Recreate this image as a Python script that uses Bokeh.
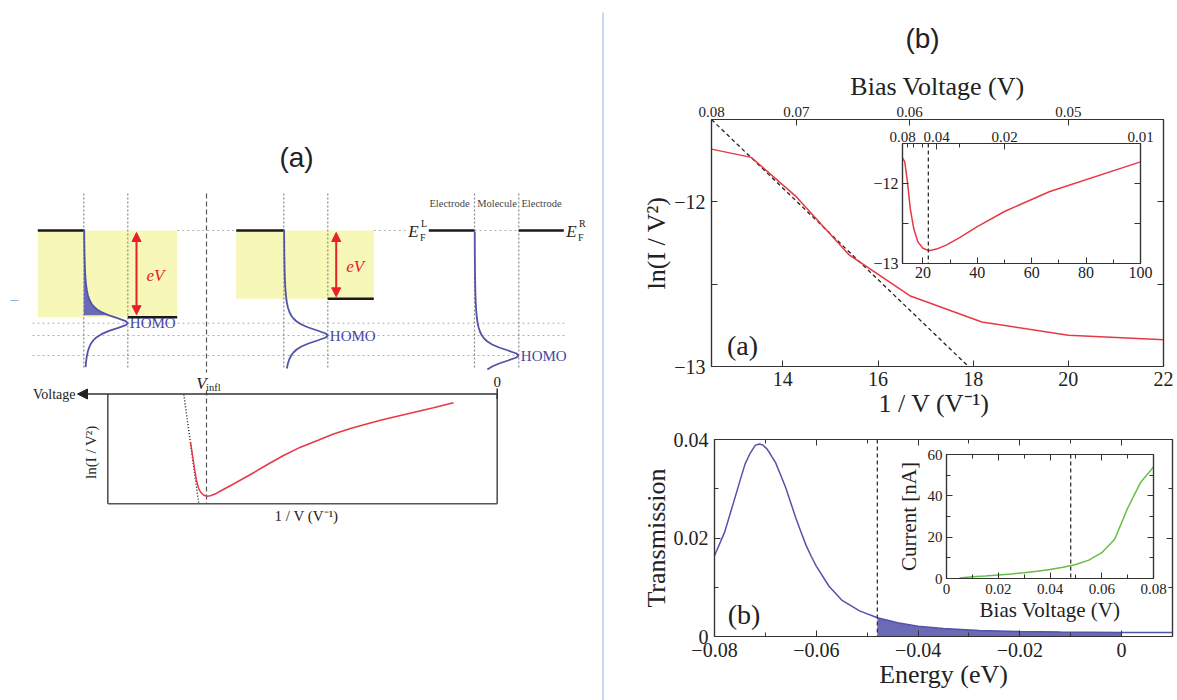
import math
from bokeh.plotting import figure
from bokeh.layouts import column
from bokeh.models import (Range1d, LinearAxis, FixedTicker, CustomJSTickFormatter,
                          Arrow, NormalHead, ColumnDataSource, Span)
from bokeh.core.properties import value
from bokeh.embed import file_html
from bokeh.resources import INLINE

SERIF = "Liberation Serif"
SANS = "Liberation Sans"
RED = "#e63946"
BLUE = "#5353a8"
BLUE_FILL = "#6a6ab6"
GREEN = "#63bf45"
INK = "#222222"

PAGE_W, PAGE_H = 1177, 700
# a column lines up the side borders of its plots, so all share these
SIDE_L = 92
SIDE_R = 18
CANVAS_W = PAGE_W - SIDE_L - SIDE_R

# ---------------- right-hand panels: data ----------------
bias_v = [0.08, 0.075, 0.07, 0.065, 0.06, 0.055, 0.05, 0.045, 0.04, 0.035,
          0.03, 0.025, 0.02, 0.015, 0.01]
ln_i_over_v2 = [-11.68, -11.73, -11.97, -12.32, -12.57, -12.73, -12.81, -12.84,
                -12.82, -12.77, -12.68, -12.54, -12.35, -12.10, -11.73]
tangent_inv_v = [12.5, 17.9]
tangent_ln = [-11.5, -13.0]
inset_infl_inv_v = 22.0

top_bias_ticks = [0.08, 0.07, 0.06, 0.05]
inset_bias_ticks = [0.08, 0.04, 0.02, 0.01]
inset_bias_minor = [0.07, 0.06, 0.05, 0.03]

energy = [-0.080, -0.078, -0.076, -0.075, -0.074, -0.073, -0.072, -0.0712, -0.0705,
          -0.0697, -0.069, -0.068, -0.067, -0.066, -0.065, -0.064, -0.063, -0.062,
          -0.061, -0.060, -0.0575, -0.055, -0.0515, -0.048, -0.044, -0.040, -0.035,
          -0.028, -0.020, -0.012, 0.000, 0.010]
transmission = [0.0164, 0.0212, 0.0281, 0.0316, 0.0350, 0.0372, 0.0388, 0.0391, 0.0389,
                0.0381, 0.0370, 0.0353, 0.0328, 0.0302, 0.0271, 0.0240, 0.0212, 0.0185,
                0.0163, 0.0143, 0.0102, 0.0074, 0.0052, 0.0038, 0.0028, 0.0021, 0.0016,
                0.0012, 0.0010, 0.0009, 0.00083, 0.0008]
window_edge = -0.048
window_top = 0.0

iv_bias = [0.005, 0.01, 0.015, 0.02, 0.025, 0.03, 0.035, 0.04, 0.045, 0.05,
           0.055, 0.06, 0.065, 0.07, 0.075, 0.08]
iv_current = [0.3, 0.8, 1.2, 1.7, 2.2, 2.8, 3.5, 4.3, 5.4, 6.8, 8.9, 12.5,
              19.0, 34.0, 46.5, 54.0]
iv_marker = 0.048

# ---------------- left-hand schematic (page units, y downward) ----------------
level_top = 230.0
elec_left_start = [37.3, 235.7, 428.3]
mol_left = [83.3, 283.3, 474.0]
mol_right = [127.3, 327.3, 518.3]
elec_right_end = [176.7, 373.3, 563.3]
ef_right = [316.7, 298.3, 230.0]
homo_level = [322.7, 335.0, 355.0]
dos_dy = [-130, -124, -118, -112, -106, -100, -94, -88, -80, -72, -64, -56, -50,
          -44, -38, -33, -28, -24, -20, -17, -14, -11, -8, -5, -2, 0,
          2, 5, 8, 11, 14, 17, 20, 24, 28, 33, 38, 44, 50]
dos_amp = [0.21, 0.23, 0.25, 0.28, 0.31, 0.35, 0.40, 0.46, 0.55, 0.68, 0.85, 1.11,
           1.38, 1.77, 2.34, 3.05, 4.12, 5.42, 7.41, 9.63, 12.87, 17.64, 24.58,
           33.62, 41.93, 44.0, 41.93, 33.62, 24.58, 17.64, 12.87, 9.63, 7.41,
           5.42, 4.12, 3.05, 2.34, 1.77, 1.38]
sketch_inv_v = [190, 192, 194, 196, 198, 200, 203, 206.5, 210, 215, 220, 233, 250,
                267, 283, 300, 317, 333, 350, 367, 383, 400, 417, 433, 453]
sketch_ln = [441.7, 455, 468, 480, 487.5, 491.5, 494.5, 495.8, 495.3, 493.3, 490.5,
             483.5, 474, 464, 455, 446.7, 440, 433.5, 428, 423.3, 419, 415, 411,
             407.3, 402.3]
sketch_fit_x = [183.3, 198.3]
sketch_fit_y = [394.0, 503.3]
v_infl_x = 206.0


def txt(p, x, y, s, size, font=SERIF, color=INK, style="normal", align="center",
        baseline="middle", angle=0.0):
    p.text(x=[x], y=[y], text=[s], text_font=value(font), text_font_size=size,
           text_color=color, text_font_style=style, text_align=align,
           text_baseline=baseline, angle=angle)


def place(p, left, top):
    p.styles = {"position": "absolute", "left": f"{left}px", "top": f"{top}px"}


# ================= schematic canvas =================
cv = figure(frame_width=CANVAS_W, frame_height=PAGE_H, x_range=Range1d(0, CANVAS_W),
            y_range=Range1d(PAGE_H, 0), output_backend="svg", toolbar_location=None,
            min_border=0, min_border_left=SIDE_L, min_border_right=SIDE_R, min_border_top=0,
            min_border_bottom=0, x_axis_location=None, y_axis_location=None,
            outline_line_color=None, title=None)
cv.grid.visible = False
place(cv, -SIDE_L, 0)

cv.line([602.5, 602.5], [12, 700], line_color="#b7cde6", line_width=1.5)
cv.line([10, 18], [300, 300], line_color="#8fb0d8", line_width=1.2)
txt(cv, 296, 157, "(a)", "28px", font=SANS)
txt(cv, 922, 38, "(b)", "28px", font=SANS)

# bias windows
cv.quad(left=elec_left_start[:2], right=elec_right_end[:2], top=[level_top] * 2,
        bottom=ef_right[:2], fill_color="#f7f7b8", line_color=None)

# dotted guides
gx, gy = [], []
for a, b in [(elec_right_end[0], elec_left_start[1]), (elec_right_end[1], 405),
             (mol_left[2], mol_right[2])]:
    gx.append([a, b]); gy.append([level_top, level_top])
for i, h in enumerate(homo_level):
    gx.append([32, 566 if i < 2 else mol_right[2]]); gy.append([h, h])
cv.multi_line(gx, gy, line_color="#b0b0b0", line_width=1, line_dash="2 3")
vx = [[m, m] for m in mol_left + mol_right]
cv.multi_line(vx, [[193, 368]] * len(vx), line_color="#8a8a8a", line_width=1.2,
              line_dash="2 2")
cv.multi_line([[v_infl_x, v_infl_x], [v_infl_x, v_infl_x]], [[193, 372], [390, 503.3]],
              line_color="#555555", line_width=1.2, line_dash="5 3")

# electrode Fermi levels
fx = [[elec_left_start[i], mol_left[i]] for i in range(3)] + \
     [[mol_right[i], elec_right_end[i]] for i in range(3)]
fy = [[level_top, level_top]] * 3 + [[ef_right[i], ef_right[i]] for i in range(3)]
cv.multi_line(fx, fy, line_color="#1a1a1a", line_width=2.5)

# molecular density of states
for i in range(3):
    ys = [homo_level[i] + d for d in dos_dy]
    xs = [mol_left[i] + a for a in dos_amp]
    keep = [k for k in range(len(ys)) if 228 <= ys[k] <= 370]
    ys_k = [ys[k] for k in keep]
    xs_k = [xs[k] for k in keep]
    if i == 0:
        fill = [k for k in range(len(ys_k)) if ys_k[k] <= ef_right[0] + 0.5]
        cv.harea(y=[ys_k[k] for k in fill], x1=[mol_left[0]] * len(fill),
                 x2=[xs_k[k] for k in fill], fill_color=BLUE_FILL)
    cv.line(xs_k, ys_k, line_color=BLUE, line_width=1.8)
cv.text(x=[m + 2 for m in mol_right], y=homo_level, text=["HOMO"] * 3,
        text_font=value(SERIF), text_font_size="15px", text_color="#4646a0",
        text_align="left", text_baseline="middle")

# applied bias arrows
arrow_x = [136.0, 335.7]
arrow_src = ColumnDataSource(dict(x=arrow_x, y0=[level_top + 2] * 2,
                                  y1=[ef_right[0] - 2.5, ef_right[1] - 2]))
cv.add_layout(Arrow(source=arrow_src, x_start="x", y_start="y0", x_end="x", y_end="y1",
                    line_color="#e8202a", line_width=2,
                    start=NormalHead(size=9, fill_color="#e8202a", line_color="#e8202a"),
                    end=NormalHead(size=9, fill_color="#e8202a", line_color="#e8202a")))
for i in range(2):
    txt(cv, arrow_x[i] + 10, (level_top + ef_right[i]) / 2 + 2, "eV", "17px",
        color="#e8202a", style="italic", align="left")

# panel 3 annotations
for x, s in [(449, "Electrode"), (496.5, "Molecule"), (541, "Electrode")]:
    txt(cv, x, 203, s, "10.5px", color="#444444")
txt(cv, 413, 231, "E", "17px", style="italic")
txt(cv, 420.5, 223, "L", "10px", align="left")
txt(cv, 419.5, 236.5, "F", "10px", align="left")
txt(cv, 571, 231, "E", "17px", style="italic")
txt(cv, 578.5, 223, "R", "10px", align="left")
txt(cv, 577.5, 236.5, "F", "10px", align="left")

# sketch of ln(I/V^2) against 1/V
cv.multi_line([[107.3, 107.3], [107.3, 496.7], [496.7, 496.7]],
              [[393.5, 503.3], [503.3, 503.3], [393.5, 503.3]],
              line_color="#555555", line_width=1.6)
cv.add_layout(Arrow(x_start=496.7, y_start=393.5, x_end=77, y_end=393.5,
                    line_color="#333333", line_width=1.6,
                    end=NormalHead(size=10, fill_color="#222222", line_color="#222222")))
cv.line([496.7, 496.7], [388, 398.5], line_color="#333333", line_width=1.5)
txt(cv, 75, 393.5, "Voltage", "14px", align="right")
txt(cv, 496.7, 381.5, "0", "15px")
txt(cv, 201, 382.5, "V", "17px", style="italic")
txt(cv, 205.5, 387, "infl", "10.5px", align="left")
cv.line(sketch_fit_x, sketch_fit_y, line_color="#222222", line_width=1.5, line_dash="1 2")
cv.line(sketch_inv_v, sketch_ln, line_color=RED, line_width=1.5)
txt(cv, 90, 451.7, "ln(I / V²)", "15px", angle=math.pi / 2)
txt(cv, 308, 515, "1 / V  (V⁻¹)", "15px")


# ================= helpers for the data panels =================
def fmt_dec(d):
    return CustomJSTickFormatter(code=f"""
        if (Math.abs(tick) < 1e-12) return "0";
        return tick.toFixed({d}).replace("-", "\\u2212");
    """)


def fmt_int_only():
    return CustomJSTickFormatter(code="""
        if (Math.abs(tick - Math.round(tick)) > 1e-9) return "";
        return tick.toFixed(0).replace("-", "\\u2212");""")


BLANK = "return ''"


def style_axis(ax, size, ticks, minor=None, formatter=None, label=None, lsize="26px",
               standoff=5, label_standoff=4):
    ax.ticker = FixedTicker(ticks=ticks, minor_ticks=minor or [])
    ax.formatter = formatter if formatter is not None else CustomJSTickFormatter(code=BLANK)
    ax.axis_line_color = "#333333"
    ax.axis_line_width = 1.2
    ax.major_tick_line_color = "#333333"
    ax.minor_tick_line_color = "#333333"
    ax.major_tick_in = 6
    ax.major_tick_out = 0
    ax.minor_tick_in = 4
    ax.minor_tick_out = 0
    ax.major_label_text_font = SERIF
    ax.major_label_text_font_size = size
    ax.major_label_text_color = INK
    ax.major_label_standoff = standoff if formatter is not None else 0
    ax.axis_label = label
    ax.axis_label_text_font = SERIF
    ax.axis_label_text_font_style = "normal"
    ax.axis_label_text_font_size = lsize
    ax.axis_label_text_color = INK
    ax.axis_label_standoff = label_standoff


def panel(x_rng, y_rng, frame, top_bottom):
    fl, ft, fw, fh = frame
    bt, bb = top_bottom
    p = figure(frame_width=fw, frame_height=fh, x_range=Range1d(*x_rng),
               y_range=Range1d(*y_rng), output_backend="svg", toolbar_location=None,
               min_border_left=SIDE_L, min_border_right=SIDE_R, min_border_top=bt,
               min_border_bottom=bb, outline_line_color="#333333", outline_line_width=1.2,
               title=None)
    p.border_fill_alpha = 0
    p.grid.visible = False
    place(p, fl - SIDE_L, ft - bt)
    return p


def mirror(p, side, ticks, minor=None):
    ax = LinearAxis()
    style_axis(ax, "1px", ticks, minor=minor)
    ax.axis_label_standoff = 0
    p.add_layout(ax, side)


def inv_formatter():
    return CustomJSTickFormatter(code="return (1 / tick).toFixed(2);")


inv_bias = [1.0 / v for v in bias_v]

# ----- (a) Fowler-Nordheim plot -----
tm = panel((12.5, 22.0), (-13.0, -11.5), (711, 119, 452, 247), (60, 64))
tm.background_fill_alpha = 0
style_axis(tm.xaxis[0], "20px", [14, 16, 18, 20, 22], formatter=fmt_dec(0),
           label="1 / V  (V⁻¹)", standoff=5, label_standoff=0)
style_axis(tm.yaxis[0], "20px", [-13, -12.5, -12], formatter=fmt_int_only(),
           label="ln(I / V²)", standoff=6, label_standoff=0)
ax_top = LinearAxis()
style_axis(ax_top, "15px", [1.0 / v for v in top_bias_ticks], formatter=inv_formatter(),
           label="Bias Voltage (V)", standoff=3, label_standoff=3)
tm.add_layout(ax_top, "above")
mirror(tm, "right", [-13, -12.5, -12])
tm.line(tangent_inv_v, tangent_ln, line_color="#222222", line_width=1.3, line_dash="4 3")
tm.line(inv_bias, ln_i_over_v2, line_color=RED, line_width=1.5)
tm.text(x=[13.15], y=[-12.87], text=["(a)"], text_font=value(SERIF), text_font_size="28px",
        text_color=INK, text_align="center", text_baseline="middle")

# ----- inset: full bias range -----
ti = panel((12.5, 100.0), (-13.0, -11.5), (902, 143, 238, 120), (26, 28))
ti.background_fill_color = "white"
style_axis(ti.xaxis[0], "16px", [20, 40, 60, 80, 100], minor=[30, 50, 70, 90],
           formatter=fmt_dec(0), standoff=3)
style_axis(ti.yaxis[0], "16px", [-13, -12.5, -12], formatter=fmt_int_only(), standoff=4)
ti_top = LinearAxis()
style_axis(ti_top, "15px", [1.0 / v for v in inset_bias_ticks],
           minor=[1.0 / v for v in inset_bias_minor], formatter=inv_formatter(), standoff=2)
ti.add_layout(ti_top, "above")
mirror(ti, "right", [-13, -12.5, -12])
ti.add_layout(Span(location=inset_infl_inv_v, dimension="height", line_color="#333333",
                   line_width=1.3, line_dash="4 3"))
ti.line(inv_bias, ln_i_over_v2, line_color=RED, line_width=1.5)

# ----- (b) transmission -----
bm = panel((-0.08, 0.01), (0.0, 0.04), (714, 439, 458, 197), (20, 64))
bm.background_fill_alpha = 0
x_major = [-0.08, -0.06, -0.04, -0.02, 0.0]
x_minor = [-0.07, -0.05, -0.03, -0.01, 0.01]
style_axis(bm.xaxis[0], "20px", x_major, minor=x_minor, formatter=fmt_dec(2),
           label="Energy (eV)", standoff=6, label_standoff=0)
style_axis(bm.yaxis[0], "20px", [0.0, 0.02, 0.04], minor=[0.01, 0.03],
           formatter=fmt_dec(2), label="Transmission", standoff=6, label_standoff=0)
mirror(bm, "above", x_major, x_minor)
mirror(bm, "right", [0.0, 0.02, 0.04], [0.01, 0.03])
win = [k for k in range(len(energy)) if window_edge <= energy[k] <= window_top]
bm.varea(x=[energy[k] for k in win], y1=[0.0] * len(win),
         y2=[transmission[k] for k in win], fill_color=BLUE_FILL)
bm.add_layout(Span(location=window_edge, dimension="height", line_color="#333333",
                   line_width=1.3, line_dash="4 3"))
bm.line(energy, transmission, line_color=BLUE, line_width=1.5)
bm.text(x=[-0.0742], y=[0.0045], text=["(b)"], text_font=value(SERIF),
        text_font_size="28px", text_color=INK, text_align="center", text_baseline="middle")

# ----- inset: I-V curve -----
bi = panel((0.0, 0.08), (0.0, 60.0), (946, 454, 207, 124), (18, 54))
bi.background_fill_color = "white"
style_axis(bi.xaxis[0], "15px", [0.0, 0.02, 0.04, 0.06, 0.08], minor=[0.01, 0.03, 0.05, 0.07],
           formatter=fmt_dec(2), label="Bias Voltage (V)", lsize="21px", standoff=5,
           label_standoff=1)
style_axis(bi.yaxis[0], "15px", [0, 20, 40, 60], minor=[10, 30, 50], formatter=fmt_dec(0),
           label="Current [nA]", lsize="21px", standoff=4, label_standoff=4)
mirror(bi, "above", [0.0, 0.02, 0.04, 0.06, 0.08], [0.01, 0.03, 0.05, 0.07])
mirror(bi, "right", [0, 20, 40, 60], [10, 30, 50])
bi.add_layout(Span(location=iv_marker, dimension="height", line_color="#333333",
                   line_width=1.3, line_dash="4 3"))
bi.line(iv_bias, iv_current, line_color=GREEN, line_width=1.5)

root = column(cv, tm, ti, bm, bi)
root.styles = {"position": "relative", "width": f"{PAGE_W}px", "height": f"{PAGE_H}px",
               "overflow": "hidden"}
open("out.html", "w").write(file_html(root, INLINE))
